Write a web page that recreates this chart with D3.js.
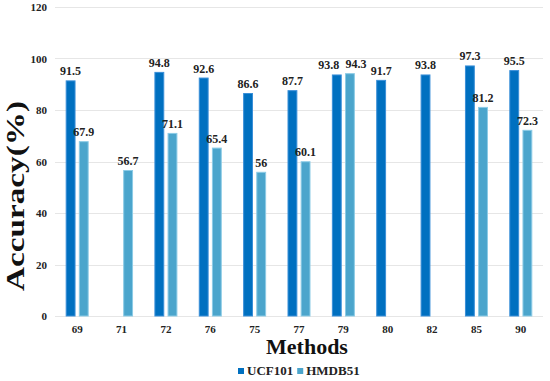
<!DOCTYPE html>
<html><head><meta charset="utf-8">
<script src="https://cdn.jsdelivr.net/npm/d3@7"></script>
<style>body{margin:0;background:#fff}svg{display:block}text{font-family:"Liberation Serif","Times New Roman",Times,serif;font-weight:bold}</style>
</head><body><svg id="c" width="550" height="381"></svg>
<script>
const categories = ["69","71","72","76","75","77","79","80","82","85","90"];
const seriesNames = ["UCF101","HMDB51"];
const ucf101 = [91.5,null,94.8,92.6,86.6,87.7,93.8,91.7,93.8,97.3,95.5];
const hmdb51 = [67.9,56.7,71.1,65.4,56,60.1,94.3,null,null,81.2,72.3];
const yTicks = [0,20,40,60,80,100,120];
const colors = ["#0070C0","#4BA5CC"];
const strokes = ["#3a8fd8","#8ccbe6"];

const svg = d3.select("#c");
const m = {l:55, r:7};
const W = 550;
const x = d3.scaleBand().domain(categories).range([m.l, W-m.r]);
const y = d3.scaleLinear().domain([0,120]).range([316, 7]);
const bw = x.bandwidth();
const x1 = d3.scaleBand().domain(seriesNames).range([bw/2-11.5, bw/2+11.5]).paddingInner(0.25);

// grid
svg.append("g").selectAll("line").data(yTicks).join("line")
  .attr("x1", m.l).attr("x2", W-m.r)
  .attr("y1", d=>Math.round(y(d))+0.5).attr("y2", d=>Math.round(y(d))+0.5)
  .attr("stroke", "#e6e6e6").attr("stroke-width", 1);

// y axis labels
const ya = svg.append("g").attr("transform", `translate(${m.l-8},0)`)
  .call(d3.axisLeft(y).tickValues(yTicks).tickSize(0).tickPadding(0));
ya.select(".domain").remove();
ya.selectAll("text").attr("font-size", 11).attr("fill", "#222")
  .attr("font-family", '"Liberation Serif",serif').attr("font-weight","bold");

// x axis labels
const xa = svg.append("g").attr("transform", `translate(0,${y(0)+9})`)
  .call(d3.axisBottom(x).tickSize(0).tickPadding(0));
xa.select(".domain").remove();
xa.selectAll("text").attr("font-size", 11).attr("fill", "#222")
  .attr("font-family", '"Liberation Serif",serif').attr("font-weight","bold");

const data = [ucf101, hmdb51];
seriesNames.forEach((s, si) => {
  const vals = categories.map((c,i)=>({c, i, v:data[si][i]})).filter(d=>d.v!=null);
  const g = svg.append("g");
  g.selectAll("rect").data(vals).join("rect")
    .attr("x", d=>x(d.c)+x1(s)+0.5)
    .attr("y", d=>y(d.v)+0.5)
    .attr("width", x1.bandwidth()-1)
    .attr("height", d=>y(0)-y(d.v)-0.5)
    .attr("fill", colors[si]).attr("stroke", strokes[si]).attr("stroke-width", 1);
  // nudge labels apart when the two bars of a group are nearly equal
  const nudge = d => {
    const other = data[1-si][d.i];
    if (other != null && Math.abs(other - d.v) < 4) return si === 0 ? -8 : 6;
    return 0;
  };
  g.selectAll("text").data(vals).join("text")
    .attr("x", d=>x(d.c)+x1(s)+x1.bandwidth()/2 + nudge(d))
    .attr("y", d=>y(d.v)-5)
    .attr("text-anchor","middle").attr("font-size", 12).attr("fill","#222")
    .text(d=>d.v);
});

// axis titles
svg.append("text").attr("transform","translate(24,196) rotate(-90)")
  .attr("text-anchor","middle").attr("font-size",26).attr("fill","#111")
  .attr("textLength",190).attr("lengthAdjust","spacingAndGlyphs")
  .text("Accuracy(%)");
svg.append("text").attr("x",307).attr("y",354).attr("text-anchor","middle")
  .attr("font-size",22).attr("fill","#111").text("Methods");

// legend
const leg = svg.append("g").attr("transform","translate(238,375)");
let lx = 0;
seriesNames.forEach((s,i)=>{
  leg.append("rect").attr("x",lx).attr("y",-7).attr("width",6).attr("height",6).attr("fill",colors[i]);
  const t = leg.append("text").attr("x",lx+9).attr("y",0).attr("font-size",13).attr("fill","#222").text(s);
  lx += 9 + t.node().getComputedTextLength() + 4;
});
</script></body></html>
